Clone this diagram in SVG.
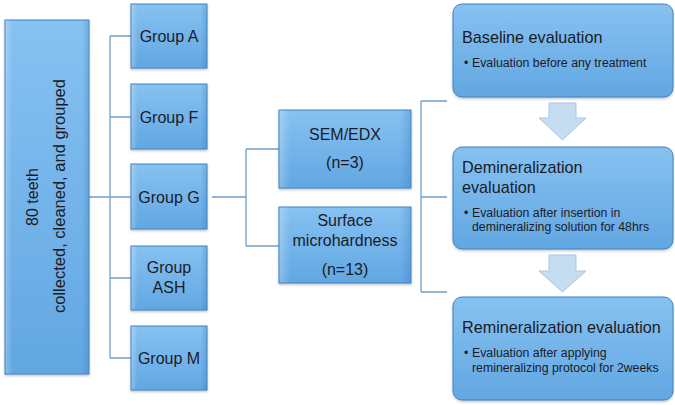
<svg xmlns="http://www.w3.org/2000/svg" width="675" height="405" viewBox="0 0 675 405">
  <defs>
    <linearGradient id="boxFill" x1="0" y1="0" x2="0" y2="1">
      <stop offset="0" stop-color="#86c2f1"/>
      <stop offset="0.5" stop-color="#74b4ea"/>
      <stop offset="1" stop-color="#62a7e2"/>
    </linearGradient>
    <linearGradient id="sideShade" x1="0" y1="0" x2="1" y2="0">
      <stop offset="0" stop-color="#ffffff" stop-opacity="0.25"/>
      <stop offset="0.08" stop-color="#ffffff" stop-opacity="0"/>
      <stop offset="0.92" stop-color="#2a6fb0" stop-opacity="0"/>
      <stop offset="1" stop-color="#2a6fb0" stop-opacity="0.25"/>
    </linearGradient>
    <filter id="shadow" x="-10%" y="-10%" width="120%" height="125%">
      <feDropShadow dx="0" dy="1.5" stdDeviation="1.2" flood-color="#4a5a6a" flood-opacity="0.35"/>
    </filter>
  </defs>
  <style>
    .box { fill: url(#boxFill); stroke: #4282c0; stroke-width: 1; filter: url(#shadow); }
    .bevel { fill: url(#sideShade); stroke: none; }
    .lbl { font-family: "Liberation Sans", Arial, sans-serif; font-size: 16px; fill: #1b1b26; text-anchor: middle; }
    .head { font-family: "Liberation Sans", Arial, sans-serif; font-size: 16.2px; fill: #1b1b26; }
    .bul { font-family: "Liberation Sans", Arial, sans-serif; font-size: 12.3px; fill: #1b1b26; }
    .conn { fill: none; stroke: #6f9fcc; stroke-width: 1.3; }
    .step { fill: #c6dcf1; stroke: #a9c7e5; stroke-width: 1; }
  </style>

  <rect width="675" height="405" fill="#ffffff"/>

  <!-- connectors -->
  <g id="connectors">
    <path class="conn" d="M89 197 H110 M110 36 V358 M110 36 H131 M110 117 H131 M110 197 H131 M110 278 H131 M110 358 H131"/>
    <path class="conn" d="M212 197 H246 M246 149 V246 M246 149 H279 M246 246 H279"/>
    <path class="conn" d="M421 101 V292 M421 101 H447 M421 197 H447 M421 292 H447"/>
  </g>

  <!-- source node -->
  <g id="teeth">
    <rect class="box" x="5" y="20" width="84" height="354"/>
    <rect class="bevel" x="5.5" y="20.5" width="83" height="353"/>
    <text class="lbl" transform="translate(38,197) rotate(-90)">80 teeth</text>
    <text class="lbl" style="font-size:16.5px" transform="translate(65,196) rotate(-90)">collected, cleaned, and grouped</text>
  </g>

  <!-- groups -->
  <g id="groupA">
    <rect class="box" x="131" y="4" width="76" height="64"/>
    <rect class="bevel" x="131.5" y="4.5" width="75" height="63"/>
    <text class="lbl" x="169" y="42">Group A</text>
  </g>
  <g id="groupF">
    <rect class="box" x="131" y="84" width="76" height="65"/>
    <rect class="bevel" x="131.5" y="84.5" width="75" height="64"/>
    <text class="lbl" x="169" y="123">Group F</text>
  </g>
  <g id="groupG">
    <rect class="box" x="131" y="164" width="76" height="65"/>
    <rect class="bevel" x="131.5" y="164.5" width="75" height="64"/>
    <text class="lbl" x="169" y="203">Group G</text>
  </g>
  <g id="groupASH">
    <rect class="box" x="131" y="246" width="76" height="64"/>
    <rect class="bevel" x="131.5" y="246.5" width="75" height="63"/>
    <text class="lbl" x="169" y="273">Group</text>
    <text class="lbl" x="169" y="293">ASH</text>
  </g>
  <g id="groupM">
    <rect class="box" x="131" y="326" width="76" height="64"/>
    <rect class="bevel" x="131.5" y="326.5" width="75" height="63"/>
    <text class="lbl" x="169" y="364">Group M</text>
  </g>

  <!-- analyses -->
  <g id="semEdx">
    <rect class="box" x="279" y="110" width="132" height="78"/>
    <rect class="bevel" x="279.5" y="110.5" width="131" height="77"/>
    <text class="lbl" x="345" y="140">SEM/EDX</text>
    <text class="lbl" x="345" y="168">(n=3)</text>
  </g>
  <g id="microhardness">
    <rect class="box" x="279" y="207" width="132" height="76"/>
    <rect class="bevel" x="279.5" y="207.5" width="131" height="75"/>
    <text class="lbl" x="345" y="226">Surface</text>
    <text class="lbl" x="345" y="246">microhardness</text>
    <text class="lbl" x="345" y="275">(n=13)</text>
  </g>

  <!-- evaluation stages -->
  <g id="baseline">
    <rect class="box" x="453" y="4" width="220" height="93" rx="9"/>
    <text class="head" x="462" y="43">Baseline evaluation</text>
    <text class="bul" x="464" y="67">•</text>
    <text class="bul" x="472" y="67">Evaluation before any treatment</text>
  </g>
  <g id="demineralization">
    <rect class="box" x="453" y="147" width="220" height="102" rx="9"/>
    <text class="head" x="462" y="173">Demineralization</text>
    <text class="head" x="462" y="193">evaluation</text>
    <text class="bul" x="464" y="217">•</text>
    <text class="bul" x="472" y="217">Evaluation after insertion in</text>
    <text class="bul" x="472" y="231">demineralizing solution for 48hrs</text>
  </g>
  <g id="remineralization">
    <rect class="box" x="453" y="297" width="220" height="103" rx="9"/>
    <text class="head" x="462" y="333">Remineralization evaluation</text>
    <text class="bul" x="464" y="357">•</text>
    <text class="bul" x="472" y="357">Evaluation after applying</text>
    <text class="bul" x="472" y="372">remineralizing protocol for 2weeks</text>
  </g>

  <!-- step arrows -->
  <g id="steps">
    <path class="step" d="M549 103 H576 V118 H586 L562.5 140 L539 118 H549 Z"/>
    <path class="step" d="M549 255 H576 V271 H586 L562.5 292 L539 271 H549 Z"/>
  </g>
</svg>
